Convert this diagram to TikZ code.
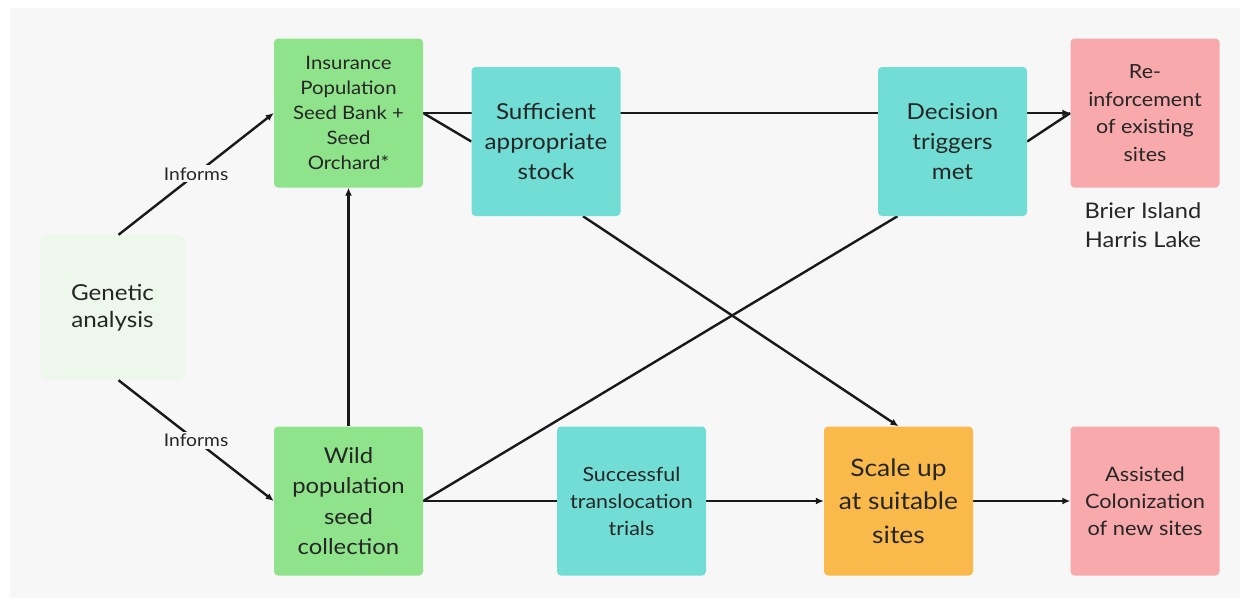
\documentclass[tikz,border=0pt]{standalone}
\usepackage{fontspec}
\setmainfont{Lato}[FakeStretch=1.1]
\usetikzlibrary{arrows.meta,calc}
\pgfdeclarelayer{back}
\pgfdeclarelayer{edges}
\pgfsetlayers{back,edges,main}
\definecolor{bg}{HTML}{F7F7F7}
\definecolor{leaf}{HTML}{8FE38B}
\definecolor{teal}{HTML}{72DDD4}
\definecolor{rose}{HTML}{F8A9AB}
\definecolor{amber}{HTML}{F9B94B}
\definecolor{pale}{HTML}{EEF7EC}
\definecolor{ink}{HTML}{262626}
\newcommand{\fs}[2]{\fontsize{#1}{#2}\selectfont}
\tikzset{
  box/.style={rounded corners=4pt, minimum width=149pt, minimum height=149pt,
    align=center, text=ink, inner sep=0pt},
  conn/.style={line width=2.4pt, draw=black!90},
  arr/.style={conn, -{Latex[length=8pt,width=7pt]}},
  lbl/.style={fill=bg, text=ink, font=\fs{17.5}{19}, inner sep=2pt},
}
\begin{document}
\begin{tikzpicture}[x=1pt,y=-1pt]
\useasboundingbox (0,0) rectangle (1248,603);
\begin{pgfonlayer}{back}
  \fill[white] (0,0) rectangle (1248,603);
  \fill[bg] (10,8) rectangle (1240,598);
  \fill[pale, rounded corners=8pt] (40,235) rectangle (185,380);
\end{pgfonlayer}

% nodes
\node[box, fill=leaf, font=\fs{18.5}{25}] (ins) at (348.5,113) {Insurance\\Population\\Seed Bank +\\Seed\\Orchard*};
\node[box, fill=teal, font=\fs{22}{30}] (suf) at (546,141.5) {Sufficient\\appropriate\\stock};
\node[box, fill=teal, font=\fs{22}{30}] (dec) at (952.5,141.5) {Decision\\triggers\\met};
\node[box, fill=rose, font=\fs{19.5}{27.5}] (reinf) at (1145,113) {Re-\\inforcement\\of existing\\sites};
\node[box, font=\fs{22}{27}, minimum width=145pt, minimum height=145pt] (gen) at (112.5,307.5) {Genetic\\analysis};
\node[box, fill=leaf, font=\fs{21.7}{30.3}] (wild) at (348.5,501) {Wild\\population\\seed\\collection};
\node[box, fill=teal, font=\fs{19.5}{27}] (succ) at (631.5,501) {Successful\\translocation\\trials};
\node[box, fill=amber, font=\fs{24}{33.5}] (scale) at (898.5,501) {Scale up\\at suitable\\sites};
\node[box, fill=rose, font=\fs{19.8}{27}] (assist) at (1145,501) {Assisted\\Colonization\\of new sites};
\node[align=center, text=ink, font=\fs{21.5}{29}, anchor=north] (sites) at (1143,199) {Brier Island\\Harris Lake};

% connectors
\begin{pgfonlayer}{edges}
  \draw[arr] ($(gen.north)+(6,0)$) -- node[lbl] {Informs} (ins.west);
  \draw[arr] ($(gen.south)+(6,0)$) -- node[lbl] {Informs} (wild.west);
  \draw[arr] (wild.north) -- (ins.south);
  \draw[arr] (ins.east) -- (reinf.west);
  \draw[conn] (ins.east) -- (suf.west);
  \draw[conn] (dec.east) -- (reinf.west);
  \draw[arr] ($(suf.south)+(37,0)$) -- (scale.north);
  \draw[conn] (wild.east) -- ($(dec.south)+(-55,0)$);
  \draw[conn] (wild.east) -- (succ.west);
  \draw[arr] (succ.east) -- (scale.west);
  \draw[arr] (scale.east) -- (assist.west);
\end{pgfonlayer}
\end{tikzpicture}
\end{document}
